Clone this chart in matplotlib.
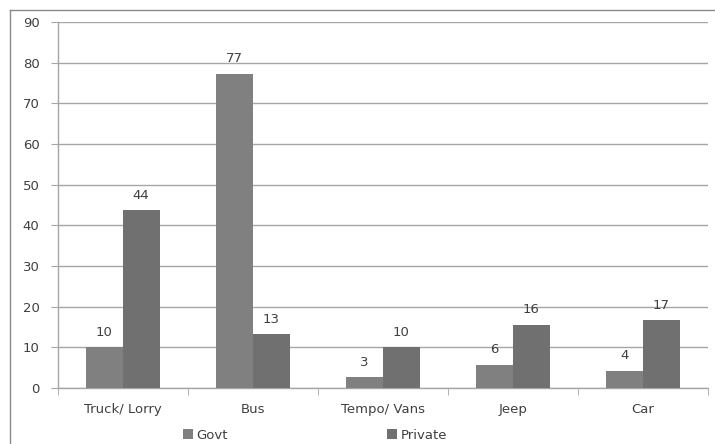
import matplotlib
matplotlib.use("Agg")
import matplotlib.pyplot as plt
from matplotlib.lines import Line2D
import numpy as np

categories = ["Truck/ Lorry", "Bus", "Tempo/ Vans", "Jeep", "Car"]
govt = [10.1, 77.3, 2.6, 5.7, 4.3]
private = [43.8, 13.2, 10.1, 15.6, 16.7]
yticks = [0, 10, 20, 30, 40, 50, 60, 70, 80, 90]

govt_color = "#808080"
private_color = "#707070"
text_color = "#404040"
grid_color = "#a6a6a6"

plt.rcParams["font.family"] = ["DejaVu Sans"]
fig = plt.figure(figsize=(7.15, 4.44), dpi=100)
ax = fig.add_axes([57.5 / 715, 1 - 388 / 444, (708 - 57.5) / 715, (388 - 22) / 444])

x = np.arange(len(categories))
w = 37 / 130
b1 = ax.bar(x - w / 2, govt, width=w, color=govt_color, label="Govt", zorder=3)
b2 = ax.bar(x + w / 2, private, width=w, color=private_color, label="Private", zorder=3)

for bars in (b1, b2):
    for rect in bars:
        h = rect.get_height()
        ax.annotate(f"{round(h)}", (rect.get_x() + rect.get_width() / 2, h),
                    xytext=(0, 6), textcoords="offset points", ha="center",
                    va="bottom", fontsize=9.5, color=text_color)

ax.set_xlim(-0.5, len(categories) - 0.5)
ax.set_ylim(0, 90)
ax.set_yticks(yticks)
ax.set_yticklabels([str(t) for t in yticks])
ax.yaxis.grid(True, color=grid_color, linewidth=1, zorder=0)
ax.set_axisbelow(True)

ax.set_xticks(x)
ax.set_xticklabels(categories)
ax.set_xticks(np.arange(len(categories) + 1) - 0.5, minor=True)
ax.tick_params(axis="x", which="major", length=0, pad=11, labelsize=9.5, labelcolor=text_color)
ax.tick_params(axis="x", which="minor", length=5, color=grid_color, direction="out")
ax.tick_params(axis="y", length=5, color=grid_color, labelsize=9.5, labelcolor=text_color, pad=8)

for s in ("top", "right"):
    ax.spines[s].set_visible(False)
for s in ("left", "bottom"):
    ax.spines[s].set_color(grid_color)
    ax.spines[s].set_linewidth(1)

leg = fig.legend(handles=[b1, b2], loc="center", bbox_to_anchor=(315 / 715, 1 - 435 / 444),
                 ncol=2, frameon=False, fontsize=9.5, handlelength=0.75, handleheight=0.75,
                 handletextpad=0.3, columnspacing=12.05, labelcolor=text_color)

# chart frame
fig.add_artist(Line2D([10 / 715, 10 / 715], [0, 1 - 10 / 444], color="#8a8a8a", linewidth=1))
fig.add_artist(Line2D([10 / 715, 1], [1 - 10 / 444, 1 - 10 / 444], color="#8a8a8a", linewidth=1))

fig.savefig("out.png", dpi=100)
